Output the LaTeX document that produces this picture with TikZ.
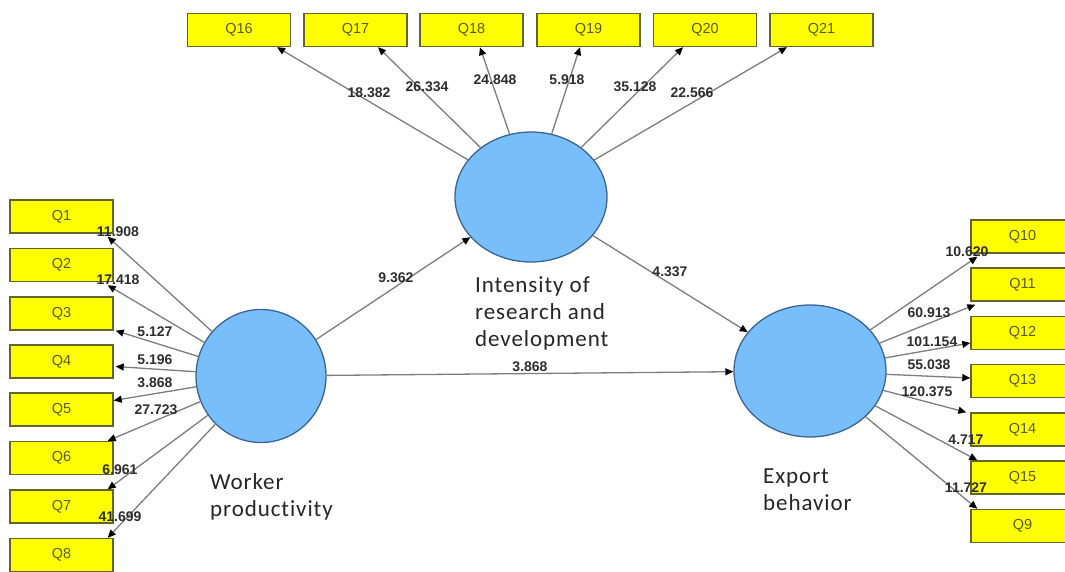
\documentclass[tikz,border=0pt]{standalone}
\usepackage{fontspec}
\setmainfont{Liberation Sans}
\newfontfamily\calib{Carlito}[LetterSpace=4,Ligatures=NoCommon]
\usetikzlibrary{shapes.geometric,arrows.meta}
\definecolor{qfill}{RGB}{255,255,0}
\definecolor{qborder}{RGB}{100,100,45}
\definecolor{qtext}{RGB}{90,90,45}
\definecolor{lvfill}{RGB}{120,190,250}
\definecolor{lvborder}{RGB}{60,100,145}
\definecolor{conncol}{RGB}{125,125,125}
\definecolor{numcol}{RGB}{45,45,45}
\tikzset{
  qbox/.style={draw=qborder, fill=qfill, line width=1.4pt, minimum width=103pt, minimum height=33pt, inner sep=0pt, font=\fontsize{14.5}{16}\selectfont, text=qtext},
  lv/.style={ellipse, draw=lvborder, fill=lvfill, line width=1.3pt, inner sep=0pt},
  conn/.style={draw=conncol, line width=1.3pt, -{Triangle[length=8pt,width=7pt,color=black]}},
  num/.style={font=\bfseries\fontsize{14}{16}\selectfont, text=numcol, inner sep=0pt},
  lvtext/.style={font=\calib\fontsize{23}{27}\selectfont, align=left, inner sep=0pt, anchor=west, text=black!85}
}
\begin{document}
\begin{tikzpicture}[x=1pt,y=-1pt]
\useasboundingbox (0,0) rectangle (1065,572);
\clip (0,0) rectangle (1065,572);
% top indicators
\node[qbox] (q16) at (239,30) {Q16};
\node[qbox] (q17) at (355.5,30) {Q17};
\node[qbox] (q18) at (471.5,30) {Q18};
\node[qbox] (q19) at (588.5,30) {Q19};
\node[qbox] (q20) at (705,30) {Q20};
\node[qbox] (q21) at (821.5,30) {Q21};
% left indicators
\node[qbox] (q1) at (61.5,216.5) {Q1};
\node[qbox] (q2) at (61.5,265) {Q2};
\node[qbox] (q3) at (61.5,313.5) {Q3};
\node[qbox] (q4) at (61.5,361.5) {Q4};
\node[qbox] (q5) at (61.5,409.5) {Q5};
\node[qbox] (q6) at (61.5,458) {Q6};
\node[qbox] (q7) at (61.5,506.5) {Q7};
\node[qbox] (q8) at (61.5,555) {Q8};
% right indicators
\node[qbox] (q10) at (1022.5,236.5) {Q10};
\node[qbox] (q11) at (1022.5,284.5) {Q11};
\node[qbox] (q12) at (1022.5,333) {Q12};
\node[qbox] (q13) at (1022.5,381) {Q13};
\node[qbox] (q14) at (1022.5,429.5) {Q14};
\node[qbox] (q15) at (1022.5,477.5) {Q15};
\node[qbox] (q9) at (1022.5,526) {Q9};
% latent variables
\node[lv, minimum width=152pt, minimum height=130pt] (rd) at (531,197) {};
\node[lv, minimum width=130pt, minimum height=133pt] (wp) at (261,376) {};
\node[lv, minimum width=152pt, minimum height=132pt] (eb) at (810,371) {};
% connectors top
\draw[conn] (rd) -- ([xshift=38pt]q16.south);
\draw[conn] (rd) -- ([xshift=22.5pt]q17.south);
\draw[conn] (rd) -- ([xshift=8.5pt]q18.south);
\draw[conn] (rd) -- ([xshift=-8.5pt]q19.south);
\draw[conn] (rd) -- ([xshift=-22pt]q20.south);
\draw[conn] (rd) -- ([xshift=-34.5pt]q21.south);
% connectors left
\draw[conn] (wp) -- ([xshift=-6pt,yshift=-3pt]q1.south east);
\draw[conn] (wp) -- ([xshift=-6pt,yshift=-3pt]q2.south east);
\draw[conn] (wp) -- ([xshift=2pt]q3.south east);
\draw[conn] (wp) -- ([xshift=2pt,yshift=-5pt]q4.east);
\draw[conn] (wp) -- ([yshift=9pt]q5.east);
\draw[conn] (wp) -- ([xshift=-6pt]q6.north east);
\draw[conn] (wp) -- ([xshift=-6pt]q7.north east);
\draw[conn] (wp) -- ([xshift=-6pt]q8.north east);
% connectors right
\draw[conn] (eb) -- ([xshift=7pt,yshift=-3pt]q10.south west);
\draw[conn] (eb) -- ([xshift=5pt,yshift=-3pt]q11.south west);
\draw[conn] (eb) -- ([yshift=-10pt]q12.west);
\draw[conn] (eb) -- ([yshift=3pt]q13.west);
\draw[conn] (eb) -- ([xshift=-4pt]q14.north west);
\draw[conn] (eb) -- ([xshift=7pt]q15.north west);
\draw[conn] (eb) -- ([xshift=7pt]q9.north west);
% structural paths
\draw[conn] (wp) -- (rd);
\draw[conn] (rd) -- (eb);
\draw[conn] (wp) -- (eb);
% loading labels top
\node[num] (l16) at (369,93) {18.382};
\node[num] (l17) at (427,87) {26.334};
\node[num] (l18) at (495,80) {24.848};
\node[num] (l19) at (567,80) {5.918};
\node[num] (l20) at (635,87) {35.128};
\node[num] (l21) at (692,93) {22.566};
% left labels
\node[num] (l1) at (118,232) {11.908};
\node[num] (l2) at (118,280) {17.418};
\node[num] (l3) at (155,332) {5.127};
\node[num] (l4) at (155,360) {5.196};
\node[num] (l5) at (155,383) {3.868};
\node[num] (l6) at (156,410) {27.723};
\node[num] (l7) at (120,470) {6.961};
\node[num] (l8) at (120,517) {41.699};
% right labels
\node[num] (l10) at (967,252) {10.620};
\node[num] (l11) at (929,313) {60.913};
\node[num] (l12) at (932,342) {101.154};
\node[num] (l13) at (929,365) {55.038};
\node[num] (l14) at (927,392) {120.375};
\node[num] (l15) at (966,440) {4.717};
\node[num] (l9) at (966,488) {11.727};
% structural labels
\node[num] (s1) at (396,278) {9.362};
\node[num] (s2) at (670,272) {4.337};
\node[num] (s3) at (530,367) {3.868};
% latent variable names
\node[lvtext] (trd) at (475,313) {Intensity of\\research and\\development};
\node[lvtext] (twp) at (210,496.5) {Worker\\productivity};
\node[lvtext] (teb) at (763,490) {Export\\behavior};
\end{tikzpicture}
\end{document}
